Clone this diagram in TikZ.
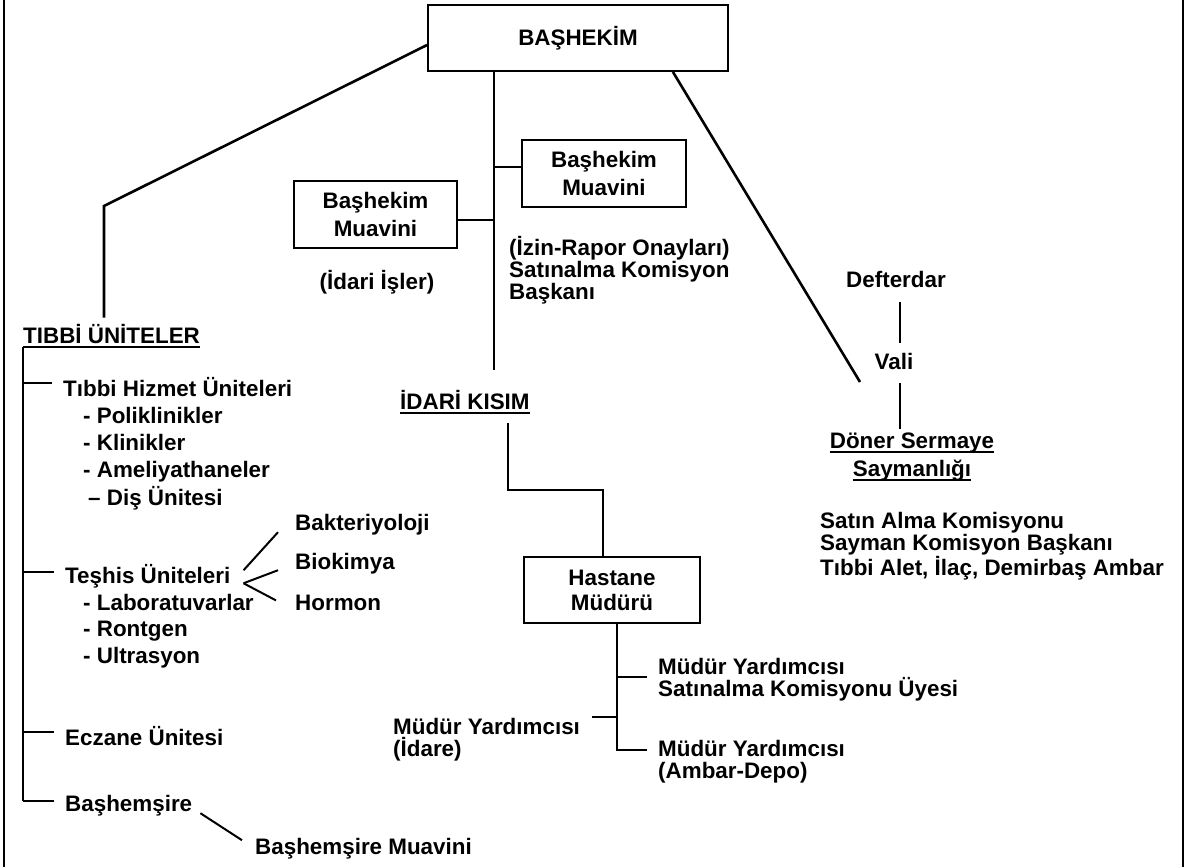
\documentclass[tikz,border=0pt]{standalone}
\usepackage{fontspec}
\setmainfont{Liberation Sans}
\usetikzlibrary{calc}

\begin{document}
\begin{tikzpicture}[
  x=1pt, y=-1pt,
  box/.style={rectangle, draw, line width=1.8pt, minimum width=#1, minimum height=67pt, inner sep=0pt, align=center, font=\bfseries\fontsize{22.4}{28}\selectfont},
  txt/.style={inner sep=0pt, align=left, font=\bfseries\fontsize{22.4}{22}\selectfont},
  link/.style={line width=2pt},
  slant/.style={line width=2.6pt},
  frame/.style={line width=1.8pt}
]
  \useasboundingbox (0,0) rectangle (1190,867);
  \draw[frame] (4,0) -- (4,867);
  \draw[frame] (1183,0) -- (1183,867);

  % head and deputies
  \node[box=300pt, minimum height=66pt] (bashekim) at (578,38) {BAŞHEKİM};
  \node[box=164pt] (muavinR) at (604,173.5) {Başhekim\\Muavini};
  \node[box=163pt] (muavinL) at (375.5,214.5) {Başhekim\\Muavini};
  \node[txt, anchor=base] (idariisler) at (377,289) {(İdari İşler)};
  \node[txt, anchor=west] (izin) at (509,270) {(İzin-Rapor Onayları)\\Satınalma Komisyon\\Başkanı};

  % right column
  \node[txt, anchor=base] (defterdar) at (896,287) {Defterdar};
  \node[txt, anchor=base] (vali) at (894,369) {Vali};
  \node[txt, anchor=base] (doner1) at (912,448) {Döner Sermaye};
  \node[txt, anchor=base] (doner2) at (912,476) {Saymanlığı};
  \node[txt, anchor=west] (satin) at (820,546) {Satın Alma Komisyonu\\Sayman Komisyon Başkanı\\Tıbbi Alet, İlaç, Demirbaş Ambar};

  % medical units
  \node[txt, anchor=base west] (tibbi) at (23,343) {TIBBİ ÜNİTELER};
  \node[txt, anchor=base west] (hizmet) at (63,396) {Tıbbi Hizmet Üniteleri};
  \node[txt, anchor=base west] (poli) at (83,423) {- Poliklinikler};
  \node[txt, anchor=base west] (klinik) at (83,450) {- Klinikler};
  \node[txt, anchor=base west] (ameliyat) at (83,477) {- Ameliyathaneler};
  \node[txt, anchor=base west] (dis) at (88,505) {– Diş Ünitesi};
  \node[txt, anchor=base west] (teshis) at (65,583) {Teşhis Üniteleri};
  \node[txt, anchor=base west] (lab) at (83,610) {- Laboratuvarlar};
  \node[txt, anchor=base west] (rontgen) at (83,636) {- Rontgen};
  \node[txt, anchor=base west] (ultra) at (83,663) {- Ultrasyon};
  \node[txt, anchor=base west] (bakter) at (295,530) {Bakteriyoloji};
  \node[txt, anchor=base west] (biokimya) at (295,569) {Biokimya};
  \node[txt, anchor=base west] (hormon) at (295,610) {Hormon};
  \node[txt, anchor=base west] (eczane) at (65,745) {Eczane Ünitesi};
  \node[txt, anchor=base west] (bashemsire) at (65,811) {Başhemşire};
  \node[txt, anchor=base west] (bmuavin) at (255,854) {Başhemşire Muavini};

  % administration
  \node[txt, anchor=base west] (idari) at (400,409) {İDARİ KISIM};
  \node[box=176pt, minimum height=66pt, font=\bfseries\fontsize{22.4}{25}\selectfont] (hastane) at (612,590) {Hastane\\Müdürü};
  \node[txt, anchor=west] (mysat) at (658,680) {Müdür Yardımcısı\\Satınalma Komisyonu Üyesi};
  \node[txt, anchor=west] (myidare) at (393,740) {Müdür Yardımcısı\\(İdare)};
  \node[txt, anchor=west] (myambar) at (658,762) {Müdür Yardımcısı\\(Ambar-Depo)};

  % underlines
  \draw[link] ([yshift=-4pt]tibbi.base west) -- ([yshift=-4pt]tibbi.base east);
  \draw[link] ([yshift=-4pt]idari.base west) -- ([yshift=-4pt]idari.base east);
  \draw[link] ([yshift=-4pt]doner1.base west) -- ([yshift=-4pt]doner1.base east);
  \draw[link] ([yshift=-4pt]doner2.base west) -- ([yshift=-4pt]doner2.base east);

  % head connectors
  \coordinate (lk) at (104,206);
  \draw[slant, shorten >=6pt] ([yshift=-7pt]bashekim.west) -- (lk) -- (lk |- tibbi.north);
  \coordinate (sp) at (494,370);
  \draw[link] (bashekim.south -| sp) -- (sp);
  \draw[link] ($(muavinR.west)+(0,-7)$) -- ($(muavinR.west -| sp)+(0,-7)$);
  \draw[link] ($(muavinL.east)+(0,5.5)$) -- ($(muavinL.east -| sp)+(0,5.5)$);
  \coordinate (rk) at (860,382);
  \draw[slant] ([xshift=-56pt]bashekim.south east) -- (rk);

  % right column connectors
  \coordinate (dv) at (900,0);
  \draw[link, shorten <=15pt, shorten >=10pt] (defterdar.south -| dv) -- (vali.north -| dv);
  \draw[link, shorten <=14pt, shorten >=3pt] (vali.south -| dv) -- (doner1.north -| dv);

  % tree of medical units
  \coordinate (tr) at ([yshift=-4pt]tibbi.base west);
  \draw[link] (tr) -- ($(bashemsire.west -| tr)+(0,-4)$);
  \draw[link, shorten >=11pt] ($(hizmet.west -| tr)+(0,-4)$) -- ($(hizmet.west)+(0,-4)$);
  \draw[link, shorten >=11pt] ($(teshis.west -| tr)+(0,-4)$) -- ($(teshis.west)+(0,-4)$);
  \draw[link, shorten >=11pt] ($(eczane.west -| tr)+(0,-4)$) -- ($(eczane.west)+(0,-4)$);
  \draw[link, shorten >=11pt] ($(bashemsire.west -| tr)+(0,-4)$) -- ($(bashemsire.west)+(0,-4)$);
  \draw[link] ($(teshis.east)+(13,-5.5)$) -- ($(bakter.west)+(-17,8)$);
  \draw[link] ($(teshis.east)+(13,7.5)$) -- ($(biokimya.west)+(-17,7)$);
  \draw[link] ($(teshis.east)+(13,7.5)$) -- ($(hormon.west)+(-19,-2)$);
  \draw[link] ($(bashemsire.east)+(8,8)$) -- ($(bmuavin.west)+(-13,-8)$);

  % administration connectors
  \coordinate (ik) at (508,490);
  \coordinate (hk) at (603,490);
  \draw[link, shorten <=14pt] (ik |- idari.south) -- (ik) -- (hk) -- (hk |- hastane.north);
  \coordinate (hb) at (617,750);
  \draw[link] (hastane.south -| hb) -- (hb) -- ($(hb -| myambar.west)+(-11,0)$);
  \draw[link] ($(mysat.west -| hb)+(0,-3)$) -- ($(mysat.west)+(-11,-3)$);
  \draw[link] ($(myidare.east)+(12,-23)$) -- ($(myidare.east -| hb)+(0,-23)$);
\end{tikzpicture}
\end{document}
